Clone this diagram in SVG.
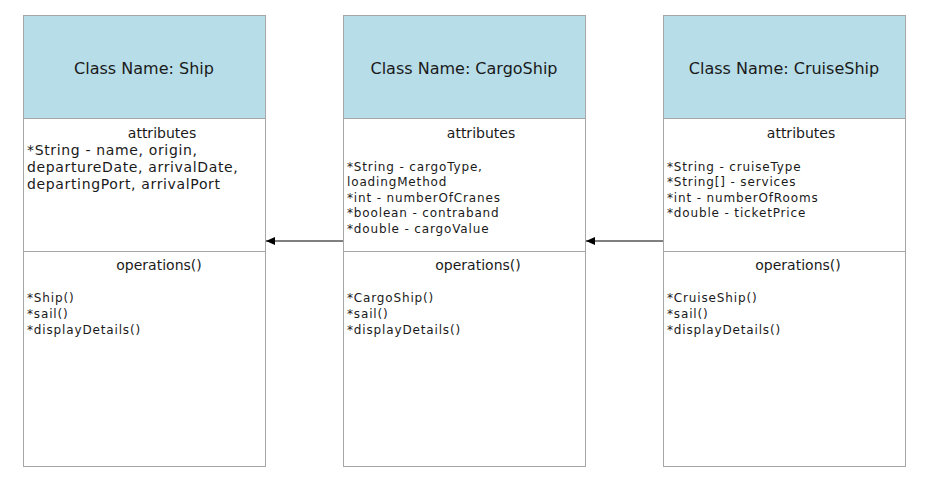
<svg xmlns="http://www.w3.org/2000/svg" width="933" height="492" viewBox="0 0 933 492">
<defs>
<style>
.box{fill:#fff;stroke:#a6a6a6;stroke-width:1}
.hd{fill:#b7dde8;stroke:#a6a6a6;stroke-width:1}
text{font-family:"DejaVu Sans","Verdana",sans-serif;fill:#1a1a1a}
.t{font-size:16px;text-anchor:middle}
.s{font-size:14px;text-anchor:middle}
.a{font-size:14px;letter-spacing:0.65px}
.m{font-size:12px;letter-spacing:0.85px}
.e{stroke:#000;stroke-width:1;fill:none}
</style>
<marker id="arr" markerWidth="10" markerHeight="10" refX="9" refY="5" orient="auto" markerUnits="userSpaceOnUse">
<path d="M0,1 L9,5 L0,9 Z" fill="#000"/>
</marker>
</defs>
<rect width="933" height="492" fill="#fff"/>
<g id="connectors">
<line class="e" x1="343" y1="241" x2="266" y2="241" marker-end="url(#arr)"/>
<line class="e" x1="663" y1="241" x2="586" y2="241" marker-end="url(#arr)"/>
</g>
<g id="ship">
<rect class="box" x="23.5" y="15.5" width="242" height="451"/>
<rect class="hd" x="23.5" y="15.5" width="242" height="103"/>
<line class="box" x1="23.5" y1="251.5" x2="265.5" y2="251.5"/>
<text class="t" x="144" y="74">Class Name: Ship</text>
<text class="s" x="162" y="138">attributes</text>
<text class="a" x="27" y="155">*String - name, origin,</text>
<text class="a" x="27" y="172">departureDate, arrivalDate,</text>
<text class="a" x="27" y="189">departingPort, arrivalPort</text>
<text class="s" x="159" y="270">operations()</text>
<text class="m" x="27" y="302">*Ship()</text>
<text class="m" x="27" y="318">*sail()</text>
<text class="m" x="27" y="334">*displayDetails()</text>
</g>
<g id="cargoship">
<rect class="box" x="343.5" y="15.5" width="242" height="451"/>
<rect class="hd" x="343.5" y="15.5" width="242" height="103"/>
<line class="box" x1="343.5" y1="251.5" x2="585.5" y2="251.5"/>
<text class="t" x="464" y="74">Class Name: CargoShip</text>
<text class="s" x="481" y="138">attributes</text>
<text class="m" x="347" y="170.5">*String - cargoType,</text>
<text class="m" x="347" y="186">loadingMethod</text>
<text class="m" x="347" y="201.5">*int - numberOfCranes</text>
<text class="m" x="347" y="217">*boolean - contraband</text>
<text class="m" x="347" y="232.5">*double - cargoValue</text>
<text class="s" x="478" y="270">operations()</text>
<text class="m" x="347" y="302">*CargoShip()</text>
<text class="m" x="347" y="318">*sail()</text>
<text class="m" x="347" y="334">*displayDetails()</text>
</g>
<g id="cruiseship">
<rect class="box" x="663.5" y="15.5" width="242" height="451"/>
<rect class="hd" x="663.5" y="15.5" width="242" height="103"/>
<line class="box" x1="663.5" y1="251.5" x2="905.5" y2="251.5"/>
<text class="t" x="784" y="74">Class Name: CruiseShip</text>
<text class="s" x="801" y="138">attributes</text>
<text class="m" x="667" y="170.5">*String - cruiseType</text>
<text class="m" x="667" y="186">*String[] - services</text>
<text class="m" x="667" y="201.5">*int - numberOfRooms</text>
<text class="m" x="667" y="217">*double - ticketPrice</text>
<text class="s" x="798" y="270">operations()</text>
<text class="m" x="667" y="302">*CruiseShip()</text>
<text class="m" x="667" y="318">*sail()</text>
<text class="m" x="667" y="334">*displayDetails()</text>
</g>
</svg>
